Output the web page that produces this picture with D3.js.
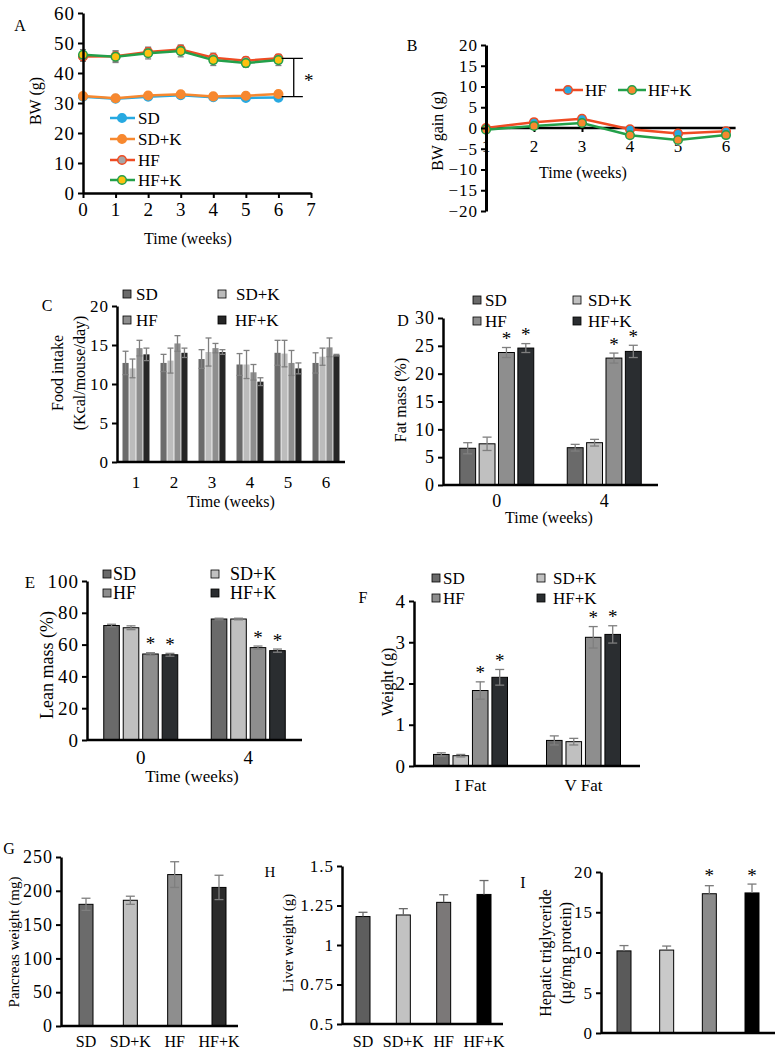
<!DOCTYPE html>
<html><head><meta charset="utf-8">
<script src="https://cdn.jsdelivr.net/npm/d3@7"></script>
<style>
body{margin:0;background:#fff}
svg{display:block}
</style></head><body>
<svg id="c" width="775" height="1050"></svg>
<script>
// ================= DATA =================
// Panel A: body weight
const weeksA = [0,1,2,3,4,5,6];
const ticksAX = [0,1,2,3,4,5,6,7];
const ticksAY = [0,10,20,30,40,50,60];
const bwSD   = [32.1,31.4,32.1,32.6,31.9,31.7,31.8];
const bwSDK  = [32.3,31.6,32.5,32.9,32.2,32.4,33.0];
const bwHF   = [45.5,45.6,47.0,47.8,45.1,44.1,44.9];
const bwHFK  = [46.1,45.4,46.6,47.3,44.3,43.3,44.3];
const bwErrSD  = [0.4,0.4,0.5,0.5,0.4,0.4,0.4];
const bwErrHF  = [1.6,1.8,1.6,1.5,1.5,1.2,1.3];
const bwErrHFK = [1.7,1.9,1.9,1.9,1.8,1.4,1.8];
const seriesA = ["SD","SD+K","HF","HF+K"];

// Panel B: body weight gain
const weeksB = [1,2,3,4,5,6];
const ticksBY = [-20,-15,-10,-5,0,5,10,15,20];
const gainHF  = [0,1.4,2.2,-0.3,-1.35,-0.8];
const gainHFK = [-0.4,0.5,1.2,-1.75,-2.9,-1.7];
const seriesB = ["HF","HF+K"];

// Shared group names for bar charts
const groupNames = ["SD","SD+K","HF","HF+K"];

// Panel C: food intake
const weeksC = ["1","2","3","4","5","6"];
const ticksCY = [0,5,10,15,20];
const fiSD   = [12.7,12.7,13.2,12.5,14.0,12.7];
const fiSDK  = [12.0,13.0,14.1,12.5,13.9,13.5];
const fiHF   = [14.6,15.2,14.6,11.5,12.7,14.7];
const fiHFK  = [13.8,14.0,14.1,10.3,12.0,13.7];
const fiErrSD  = [1.5,1.1,1.2,1.4,1.6,1.3];
const fiErrSDK = [1.2,1.6,1.8,1.8,1.7,1.1];
const fiErrHF  = [1.0,1.0,0.6,1.0,1.6,1.2];
const fiErrHFK = [0.8,0.6,0.3,0.5,0.7,0.1];

// Panel D: fat mass
const timeD = ["0","4"];
const ticksDY = [0,5,10,15,20,25,30];
const fmSD  = [6.6,6.7];
const fmSDK = [7.4,7.6];
const fmHF  = [23.8,22.8];
const fmHFK = [24.6,24.0];
const fmErrSD  = [1.0,0.6];
const fmErrSDK = [1.2,0.6];
const fmErrHF  = [0.9,0.9];
const fmErrHFK = [0.8,1.1];

// Panel E: lean mass
const timeE = ["0","4"];
const ticksEY = [0,20,40,60,80,100];
const lmSD  = [72.0,76.1];
const lmSDK = [70.6,76.1];
const lmHF  = [54.1,58.1];
const lmHFK = [53.6,56.2];
const lmErrSD  = [0.8,0.5];
const lmErrSDK = [1.2,0.5];
const lmErrHF  = [0.8,1.0];
const lmErrHFK = [0.9,1.0];

// Panel F: fat pad weight
const fatF = ["I Fat","V Fat"];
const ticksFY = [0,1,2,3,4];
const fwSD  = [0.28,0.62];
const fwSDK = [0.25,0.59];
const fwHF  = [1.83,3.12];
const fwHFK = [2.15,3.19];
const fwErrSD  = [0.04,0.11];
const fwErrSDK = [0.03,0.08];
const fwErrHF  = [0.21,0.26];
const fwErrHFK = [0.19,0.21];

// Panel G: pancreas weight
const ticksGY = [0,50,100,150,200,250];
const pancreas = [180,186,224,205];
const pancreasErr = [9,6,19,18];

// Panel H: liver weight
const ticksHY = [0.5,0.75,1,1.25,1.5];
const tickLabelsH = ["0.5","0.75","1","1.25","1.5"];
const liver = [1.18,1.19,1.27,1.32];
const liverErr = [0.027,0.04,0.048,0.088];

// Panel I: hepatic triglyceride
const ticksIY = [0,5,10,15,20];
const hepTG = [10.2,10.3,17.3,17.4];
const hepTGErr = [0.66,0.5,1.0,1.1];

// ================= DRAWING =================
const FONT = '"Liberation Serif","Times New Roman",serif';
const svg = d3.select("#c");
const ERR = "#7f7f7f";
const intFmt = d3.format("d");

function styleAxis(a, fs, w) {
  a.attr("font-family", FONT);
  a.select(".domain").attr("stroke","#000").attr("stroke-width", w || 2.5);
  a.selectAll(".tick line").attr("stroke","#000").attr("stroke-width",2);
  a.selectAll(".tick text").attr("font-size", fs).attr("font-family", FONT).attr("fill","#000")
    .attr("letter-spacing", 1);
  return a;
}
function yAxis(g, scale, x, ticks, fs, fmt, w) {
  const ax = d3.axisLeft(scale).tickValues(ticks).tickSize(5).tickSizeOuter(0).tickPadding(3)
    .tickFormat(fmt || d3.format(""));
  return styleAxis(g.append("g").attr("transform",`translate(${x},0)`).call(ax), fs, w);
}
function text(g, x, y, s, fs, opts={}) {
  const t = g.append("text").attr("x",x).attr("y",y).text(s)
    .attr("font-family",FONT).attr("font-size",fs).attr("fill","#000")
    .attr("text-anchor", opts.anchor || "start")
    .attr("dominant-baseline","central");
  if (opts.rotate) t.attr("transform",`rotate(-90,${x},${y})`);
  return t;
}
function errBar(g, cx, yTop, yBot, cap, color, bothCaps) {
  g.append("line").attr("x1",cx).attr("x2",cx).attr("y1",yTop).attr("y2",yBot).attr("stroke",color).attr("stroke-width",1.3);
  g.append("line").attr("x1",cx-cap/2).attr("x2",cx+cap/2).attr("y1",yTop).attr("y2",yTop).attr("stroke",color).attr("stroke-width",1.3);
  if (bothCaps) g.append("line").attr("x1",cx-cap/2).attr("x2",cx+cap/2).attr("y1",yBot).attr("y2",yBot).attr("stroke",color).attr("stroke-width",1.3);
}

// ---------- Panel A ----------
{
  const g = svg.append("g");
  const x = d3.scaleLinear().domain([0,7]).range([83,311]);
  const y = d3.scaleLinear().domain([0,60]).range([193,13]);
  const sers = [
    {name:seriesA[0], v:bwSD,  e:bwErrSD,  line:"#27A9E1", fill:"#27A9E1", stroke:"#27A9E1"},
    {name:seriesA[1], v:bwSDK, e:bwErrSD,  line:"#F7882F", fill:"#F7882F", stroke:"#F7882F"},
    {name:seriesA[2], v:bwHF,  e:bwErrHF,  line:"#EF4B23", fill:"#A6A6A6", stroke:"#EF4B23"},
    {name:seriesA[3], v:bwHFK, e:bwErrHFK, line:"#23A04A", fill:"#FDC010", stroke:"#23A04A"}
  ];
  sers.forEach(s => weeksA.forEach((w,i) => errBar(g, x(w), y(s.v[i]+s.e[i]), y(s.v[i]-s.e[i]), 6, ERR, true)));
  const line = d3.line().x((d,i)=>x(weeksA[i])).y(d=>y(d));
  sers.forEach(s => {
    g.append("path").attr("d", line(s.v)).attr("fill","none").attr("stroke",s.line).attr("stroke-width",2.5);
    g.selectAll(null).data(s.v).join("circle").attr("cx",(d,i)=>x(weeksA[i])).attr("cy",d=>y(d)).attr("r",4.3)
      .attr("fill",s.fill).attr("stroke",s.stroke).attr("stroke-width",1.5);
  });
  styleAxis(g.append("g").attr("transform","translate(0,193)")
    .call(d3.axisBottom(x).tickValues(ticksAX).tickSize(5).tickSizeOuter(0).tickPadding(5).tickFormat(intFmt)), 19);
  yAxis(g, y, 83, ticksAY, 19);
  // significance bracket
  const bx0 = x(6.1), bx1 = x(6.75), bxm = x(6.47);
  const yt = y(bwHF[6]), yb = y(bwSD[6]+0.3);
  g.append("path").attr("d",`M${bx0},${yt}H${bx1}M${bxm},${yt}V${yb}M${bx0},${yb}H${bx1}`)
    .attr("stroke","#000").attr("stroke-width",1.3).attr("fill","none");
  text(g, bx1+6, (yt+yb)/2+3, "*", 19, {anchor:"middle"});
  sers.forEach((s,i) => {
    const ly = [118,139,160,180][i];
    g.append("line").attr("x1",110).attr("x2",135).attr("y1",ly).attr("y2",ly).attr("stroke",s.line).attr("stroke-width",2.5);
    g.append("circle").attr("cx",122).attr("cy",ly).attr("r",4.3).attr("fill",s.fill).attr("stroke",s.stroke).attr("stroke-width",1.5);
    text(g, 138, ly, s.name, 17);
  });
  text(g, 188, 238, "Time (weeks)", 16, {anchor:"middle"});
  text(g, 35, 101, "BW (g)", 16, {anchor:"middle", rotate:true});
  text(g, 20, 25, "A", 16, {anchor:"middle"});
}

// ---------- Panel B ----------
{
  const g = svg.append("g");
  const x = d3.scaleLinear().domain([1,6]).range([486,726]);
  const y = d3.scaleLinear().domain([-20,20]).range([211,45]);
  const sers = [
    {name:seriesB[0], v:gainHF,  line:"#EF4B23", fill:"#27A9E1", stroke:"#EF4B23"},
    {name:seriesB[1], v:gainHFK, line:"#23A04A", fill:"#F7882F", stroke:"#23A04A"}
  ];
  const xa = g.append("g").attr("transform",`translate(0,${y(0)})`)
    .call(d3.axisBottom(x).tickValues(weeksB).tickSize(4).tickSizeOuter(0).tickPadding(8).tickFormat(intFmt));
  styleAxis(xa, 17, 2.5);
  xa.select(".domain").attr("d",`M486,0H${x(6.2)}`);
  const line = d3.line().x((d,i)=>x(weeksB[i])).y(d=>y(d));
  sers.forEach(s => {
    g.append("path").attr("d", line(s.v)).attr("fill","none").attr("stroke",s.line).attr("stroke-width",2.5);
    g.selectAll(null).data(s.v).join("circle").attr("cx",(d,i)=>x(weeksB[i])).attr("cy",d=>y(d)).attr("r",4.3)
      .attr("fill",s.fill).attr("stroke",s.stroke).attr("stroke-width",1.5);
  });
  yAxis(g, y, 486, ticksBY, 17, null, 3);
  [[555,568,585],[618,632,648]].forEach((p,i) => {
    const s = sers[i];
    g.append("line").attr("x1",p[0]).attr("x2",p[0]+28).attr("y1",90).attr("y2",90).attr("stroke",s.line).attr("stroke-width",2.5);
    g.append("circle").attr("cx",p[1]).attr("cy",90).attr("r",4.3).attr("fill",s.fill).attr("stroke",s.stroke).attr("stroke-width",1.5);
    text(g, p[2], 90, s.name, 17);
  });
  text(g, 583, 172, "Time (weeks)", 16, {anchor:"middle"});
  text(g, 437, 131, "BW gain  (g)", 16, {anchor:"middle", rotate:true});
  text(g, 412, 45, "B", 16, {anchor:"middle"});
}

// ---------- grouped bar helper ----------
function grouped(o) {
  const g = svg.append("g");
  const x = d3.scaleBand().domain(o.groups).range([o.x0, o.x1]);
  const inner = d3.scaleBand().domain(groupNames).range(o.inner).paddingInner(o.pad);
  const y = d3.scaleLinear().domain(o.domain).range([o.y0, o.y1]);
  const rows = [];
  groupNames.forEach((s,si) => o.groups.forEach((gr,gi) => rows.push({s, si, gr, v:o.values[si][gi], e:o.errors[si][gi]})));
  const bx = d => x(d.gr) + x.bandwidth()/2 + inner(d.s);
  g.selectAll(null).data(rows).join("rect")
    .attr("x", bx).attr("y", d=>y(d.v)).attr("width", inner.bandwidth()).attr("height", d=>y(o.domain[0])-y(d.v))
    .attr("fill", d=>o.colors[d.si]).attr("stroke", o.stroke ? "#000" : "none").attr("stroke-width", 1);
  rows.forEach(d => errBar(g, bx(d)+inner.bandwidth()/2, y(d.v+d.e), y(d.v-d.e), o.cap, ERR, true));
  if (o.stars) rows.filter(d => d.si >= 2).forEach(d => text(g, bx(d)+inner.bandwidth()/2, y(d.v+d.e)-9, "*", 19, {anchor:"middle"}));
  g.append("line").attr("x1",o.x0).attr("x2",o.x1).attr("y1",o.y0).attr("y2",o.y0).attr("stroke","#000").attr("stroke-width",2.5);
  yAxis(g, y, o.x0, o.ticks, o.tickFs);
  o.groups.forEach(gr => text(g, x(gr)+x.bandwidth()/2, o.xLabelY, gr, o.xFs || 17, {anchor:"middle"}));
  o.legend.forEach((p,i) => {
    g.append("rect").attr("x",p[0]-4).attr("y",p[1]-4).attr("width",8).attr("height",8)
      .attr("fill",o.colors[i]).attr("stroke","#000").attr("stroke-width",0.8);
    text(g, p[2], p[1], groupNames[i], o.legFs || 17);
  });
  return g;
}

// ---------- Panel C ----------
{
  const g = grouped({
    groups: weeksC, x0:117, x1:345, y0:462, y1:306, domain:[0,20], ticks:ticksCY, tickFs:17,
    values:[fiSD,fiSDK,fiHF,fiHFK], errors:[fiErrSD,fiErrSDK,fiErrHF,fiErrHFK],
    colors:["#6b6b6b","#bcbcbc","#8e8e8e","#262626"], inner:[-13.5,13.5], pad:0.12, cap:6,
    stroke:false, stars:false, xLabelY:482, xFs:17,
    legend:[[127,294,136],[222,294,236],[127,320,136],[222,320,235]], legFs:17
  });
  text(g, 231, 501, "Time (weeks)", 16, {anchor:"middle"});
  text(g, 57, 373, "Food intake", 16, {anchor:"middle", rotate:true});
  text(g, 79, 373, "(Kcal/mouse/day)", 16, {anchor:"middle", rotate:true});
  text(g, 47, 305, "C", 16, {anchor:"middle"});
}

// ---------- Panel D ----------
{
  const g = grouped({
    groups: timeD, x0:443, x1:658, y0:485, y1:318, domain:[0,30], ticks:ticksDY, tickFs:18,
    values:[fmSD,fmSDK,fmHF,fmHFK], errors:[fmErrSD,fmErrSDK,fmErrHF,fmErrHFK],
    colors:["#6a6a6a","#c0c0c0","#8e8e8e","#2a2d30"], inner:[-37,37], pad:0.18, cap:9,
    stroke:true, stars:true, xLabelY:501, xFs:18,
    legend:[[477,300,485],[577,300,588],[477,321,485],[577,321,588]], legFs:17
  });
  text(g, 549, 517, "Time (weeks)", 16, {anchor:"middle"});
  text(g, 400, 400, "Fat mass (%)", 16, {anchor:"middle", rotate:true});
  text(g, 403, 320, "D", 16, {anchor:"middle"});
}

// ---------- Panel E ----------
{
  const g = grouped({
    groups: timeE, x0:87, x1:302, y0:740, y1:581, domain:[0,100], ticks:ticksEY, tickFs:19,
    values:[lmSD,lmSDK,lmHF,lmHFK], errors:[lmErrSD,lmErrSDK,lmErrHF,lmErrHFK],
    colors:["#6a6a6a","#c0c0c0","#8e8e8e","#2a2d30"], inner:[-37,37], pad:0.2, cap:9,
    stroke:true, stars:true, xLabelY:757, xFs:19,
    legend:[[107,574,113],[215,574,230],[107,593,113],[215,593,230]], legFs:18
  });
  text(g, 192, 776, "Time (weeks)", 17, {anchor:"middle"});
  text(g, 47, 665, "Lean mass (%)", 18, {anchor:"middle", rotate:true});
  text(g, 30, 582, "E", 17, {anchor:"middle"});
}

// ---------- Panel F ----------
{
  const g = grouped({
    groups: fatF, x0:414, x1:640, y0:766, y1:601, domain:[0,4], ticks:ticksFY, tickFs:19,
    values:[fwSD,fwSDK,fwHF,fwHFK], errors:[fwErrSD,fwErrSDK,fwErrHF,fwErrHFK],
    colors:["#6a6a6a","#c0c0c0","#8e8e8e","#2a2d30"], inner:[-37,37], pad:0.2, cap:9,
    stroke:true, stars:true, xLabelY:785, xFs:17,
    legend:[[436,578,443],[541,578,553],[436,598,443],[541,598,553]], legFs:17
  });
  text(g, 387, 682, "Weight (g)", 16, {anchor:"middle", rotate:true});
  text(g, 363, 597, "F", 16, {anchor:"middle"});
}

// ---------- single bar helper ----------
function single(o) {
  const g = svg.append("g");
  const x = d3.scalePoint().domain(groupNames).range(o.xr);
  const y = d3.scaleLinear().domain(o.domain).range([o.y0, o.y1]);
  const bw = 14;
  g.selectAll(null).data(o.values).join("rect")
    .attr("x",(d,i)=>x(groupNames[i])-bw/2).attr("y",d=>y(d)).attr("width",bw).attr("height",d=>o.y0-y(d))
    .attr("fill",(d,i)=>o.colors[i]).attr("stroke","#000").attr("stroke-width",1);
  o.values.forEach((v,i) => errBar(g, x(groupNames[i]), y(v+o.errors[i]), o.both ? y(v-o.errors[i]) : y(v), 9, o.errColor || ERR, o.both));
  if (o.stars) o.values.forEach((v,i) => { if (i>=2) text(g, x(groupNames[i]), o.starY, "*", 19, {anchor:"middle"}); });
  g.append("line").attr("x1",o.x0).attr("x2",o.x1).attr("y1",o.y0).attr("y2",o.y0).attr("stroke","#000").attr("stroke-width",2.5);
  yAxis(g, y, o.x0, o.ticks, o.tickFs, o.fmt);
  if (o.xLabels) groupNames.forEach(n => text(g, x(n), 1041, n, 16, {anchor:"middle"}));
  return g;
}

// ---------- Panel G ----------
{
  const g = single({xr:[86,219], x0:61, x1:238, y0:1026, y1:857, domain:[0,250], ticks:ticksGY, tickFs:18,
    values:pancreas, errors:pancreasErr, colors:["#6b6b6b","#bfbfbf","#8e8e8e","#2b2b2b"], both:true, xLabels:true});
  text(g, 14, 942, "Pancreas weight (mg)", 15, {anchor:"middle", rotate:true});
  text(g, 9, 848, "G", 16, {anchor:"middle"});
}

// ---------- Panel H ----------
{
  const g = single({xr:[363,484], x0:342, x1:503, y0:1024, y1:866, domain:[0.5,1.5], ticks:ticksHY, tickFs:17,
    fmt:(d,i)=>tickLabelsH[i],
    values:liver, errors:liverErr, colors:["#5e5e5e","#c2c2c2","#7b7878","#000000"], both:false, errColor:"#6a6a6a", xLabels:true});
  text(g, 288, 943, "Liver weight (g)", 15, {anchor:"middle", rotate:true});
  text(g, 270, 872, "H", 15, {anchor:"middle"});
}

// ---------- Panel I ----------
{
  const g = single({xr:[624,752], x0:601, x1:775, y0:1033, y1:872, domain:[0,20], ticks:ticksIY, tickFs:17,
    values:hepTG, errors:hepTGErr, colors:["#5a5a5a","#c9c9c9","#8b8b8b","#000000"], both:false, errColor:"#7a7a7a",
    stars:true, starY:875, xLabels:false});
  text(g, 545, 953, "Hepatic triglyceride", 16, {anchor:"middle", rotate:true});
  text(g, 565, 953, "(µg/mg protein)", 16, {anchor:"middle", rotate:true});
  text(g, 523, 882, "I", 16, {anchor:"middle"});
}
</script>
</body></html>
